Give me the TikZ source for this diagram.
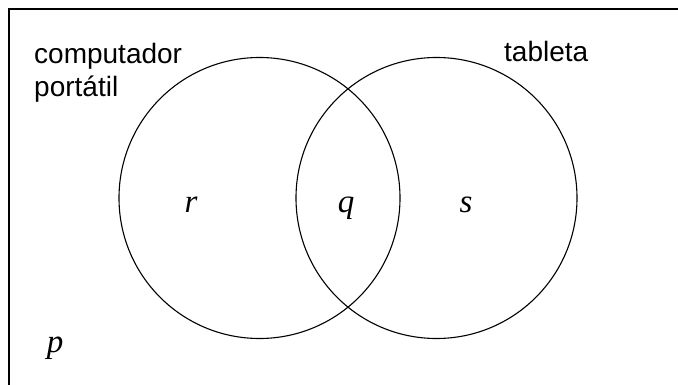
\documentclass[tikz,border=0pt]{standalone}
\usepackage{fontspec}
\setmainfont{Liberation Sans}
\newfontfamily\timesfont{Liberation Serif}
\usetikzlibrary{positioning}

\begin{document}
\begin{tikzpicture}[x=1pt,y=-1pt,
                    set/.style={draw,circle,line width=1.1pt,minimum size=281pt,inner sep=0pt},
                    lbl/.style={font=\fontsize{28}{33}\selectfont,inner sep=0pt,anchor=base west},
                    elem/.style={font=\fontsize{33}{36}\timesfont\itshape,inner sep=0pt,anchor=base}]

        % Frame
        \useasboundingbox (0,0) rectangle (678,385);
        \clip (0,0) rectangle (678,385);
        \draw[line width=1.3pt] (9,400) -- (9,9) -- (700,9);

        % Define sets
        \node[set] (laptop) at (259.5,198) {};
        \node[set] (tablet) at (436.5,198) {};

        % Labels
        \node[lbl] (pc) at (34,64) {computador};
        \node[lbl] (port) at ([yshift=-33pt]pc.base west) {portátil};
        \node[lbl] (tab) at (504,62) {tableta};

        % Regions
        \node[elem] (r) at (191,212) {r};
        \node[elem] (q) at (346,212) {q};
        \node[elem] (s) at (466,212) {s};
        \node[elem] (p) at (55,352) {p};

        \end{tikzpicture}
\end{document}
